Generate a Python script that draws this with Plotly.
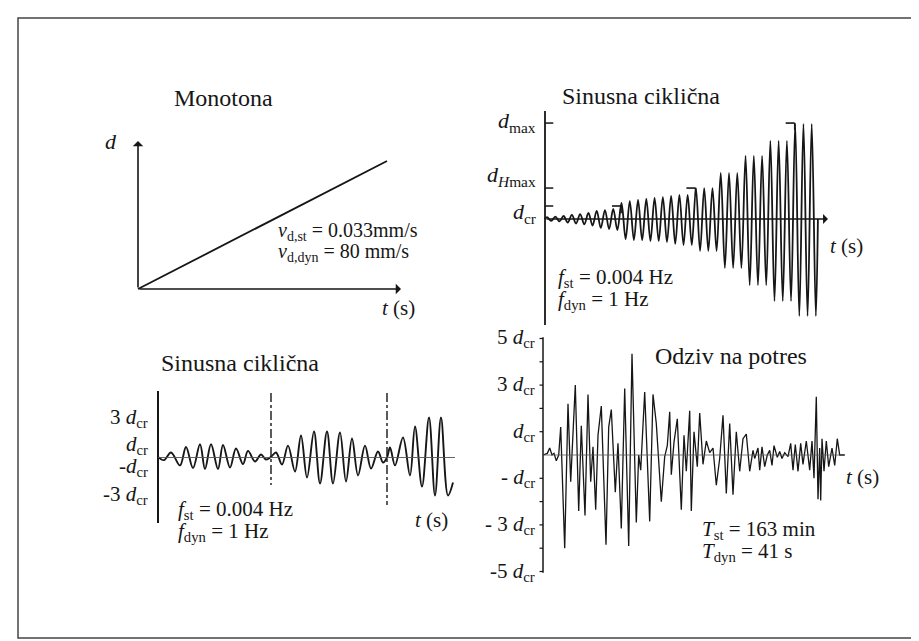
import plotly.graph_objects as go

W, H = 919, 641
FONT = "Liberation Serif"
INK = "#161616"

# ---------------- data ----------------
# Panel A: monotonic loading (normalised time / displacement)
mono_t = [0.0, 1.0]
mono_d = [0.0, 1.0]

# Panel B: cyclic sinusoidal loading with stepwise increasing amplitude (units of d_cr), per cycle
cyc_up = [0.15, 0.19, 0.23, 0.31, 0.38, 0.46, 0.62, 0.69, 0.77,
          1.23, 1.38, 1.46, 1.54, 1.62, 1.69, 1.77, 1.85, 1.85,
          2.38, 2.38, 2.38, 3.54, 3.54, 3.54, 4.85, 4.85, 4.85,
          6.00, 6.00, 6.00, 7.31, 7.31, 7.31]
cyc_down = [-0.15, -0.19, -0.27, -0.35, -0.42, -0.50, -0.69, -0.77, -0.85,
            -1.54, -1.62, -1.62, -1.69, -1.69, -1.77, -1.92, -2.00, -2.00,
            -2.46, -2.46, -2.46, -3.77, -3.77, -3.77, -5.08, -5.08, -5.08,
            -6.31, -6.31, -6.31, -7.46, -7.46, -7.46]
levels_B = [1.0, 2.38, 7.38]
level_start_cycle_B = [9, 18, 30]
level_label_pos_B = [0.46, 3.30, 7.46]
level_labels_B = ["<i>d</i><sub>cr</sub>", "<i>d</i><sub><i>H</i>max</sub>", "<i>d</i><sub>max</sub>"]

# Panel C: three sinusoidal packets (units of d_cr)
pack_t = [0, 6, 13, 22, 28, 35, 42, 47, 53, 60, 65, 72, 78, 85, 90, 97, 103, 108, 113,
          118, 124, 130, 137, 143, 149, 156, 162, 169, 175, 182, 188, 194, 200, 207, 213, 220, 225, 229,
          232, 237, 245, 252, 257, 264, 271, 277, 283, 290, 295]
pack_d = [0.05, -0.2, 0.38, -0.6, 0.8, -0.8, 1.0, -0.87, 1.0, -0.87, 0.95, -0.76, 0.68, -0.5, 0.5, -0.3, 0.23, -0.15, 0.05,
          0.38, -0.53, 0.9, -1.06, 1.67, -1.52, 1.97, -1.97, 1.97, -1.97, 1.9, -1.82, 1.44, -1.36, 0.9, -0.83, 0.45, -0.38, 0.0,
          0.76, -0.6, 1.52, -1.36, 2.35, -2.2, 3.03, -2.88, 3.03, -2.88, -1.9]
pack_dividers = [113, 229]
ticks_C = [2.99, 0.97, -0.72, -2.82]
tick_labels_C = ["3 <i>d</i><sub>cr</sub>", "<i>d</i><sub>cr</sub>", "-<i>d</i><sub>cr</sub>", "-3 <i>d</i><sub>cr</sub>"]

# Panel D: earthquake response (units of d_cr)
eq_t = [0, 4.3, 6.7, 9, 11, 13.3, 15.7, 17.7, 21.7, 25, 27.7, 32.3, 35.7, 38.3, 42, 45, 47.7, 50, 52.7, 55,
        58.3, 63, 65.7, 68.3, 72.3, 75, 78.3, 81.7, 85.7, 89, 93.3, 95.7, 97.7, 101.7, 106.7, 110, 113.3,
        118.3, 121.7, 124.3, 126.7, 128.3, 131, 134.3, 138.3, 141, 143.3, 146.7, 148.3, 151, 154.3, 156.7,
        160, 163.3, 166.7, 170, 173.3, 176.7, 180, 183.3, 186.7, 190, 193.3, 196.7, 200, 203.3, 206.7, 210,
        211.7, 215, 216.7, 219, 221.7, 224.3, 226.7, 229, 231, 234.3, 236.7, 239, 241.7, 245, 247.7, 250,
        252.3, 255, 257.7, 260, 263.3, 266.7, 269, 271, 273.3, 275, 276.7, 277.7, 279, 281, 283.3, 285.7,
        289, 291.7, 294.3, 296.7, 301.7]
eq_d = [0, 0.07, 0.3, 0, 0.07, -0.25, 0, 1.2, -4.0, 2.2, -1.15, 3.0, -2.4, 1.25, -2.6, 2.6, -1.15, 0.35, -2.35, 0.85,
        2.1, -3.85, 1.2, 1.95, -1.6, 0.5, -3.15, 2.85, -3.9, 4.35, -2.9, 0, -0.65, 2.7, -2.85, 2.6, 1.35,
        -2.0, -0.07, 0.4, 1.85, -0.85, 0.55, 1.55, -2.35, 0.85, -0.7, 1.9, -2.4, 1.0, -0.5, 1.8,
        -0.4, 0.6, 0.1, 0.3, -1.3, -0.15, 1.7, -1.65, 1.35, -1.7, 1.0, -0.7, 0.7, 0.9, -0.7, 0.2,
        -0.15, 0.3, -0.65, 0.35, -0.5, 0, 0.2, -0.45, 0.4, -0.1, 0.15, -0.15, 0.1, -0.07, 0.5, -0.65,
        0.45, -0.7, 0.5, -0.4, 0.6, -0.65, 0.6, -1.0, 2.5, -1.9, 0.3, -1.95, 0.7, -0.7, 0.6, -0.5,
        0.3, -0.45, 0.7, 0, 0]
ticks_D = [5, 4, 3, 2, 1, 0, -1, -2, -3, -4, -5]
label_ticks_D = [5, 3, 1, -1, -3, -5]
tick_labels_D = ["5 <i>d</i><sub>cr</sub>", "3 <i>d</i><sub>cr</sub>", "<i>d</i><sub>cr</sub>",
                 "- <i>d</i><sub>cr</sub>", "- 3 <i>d</i><sub>cr</sub>", "-5 <i>d</i><sub>cr</sub>"]

# ---------------- geometry (pixel layout of the four panels) ----------------
panels = {
    "A": dict(box=(115, 405, 120, 295), origin=(130, 281), sx=249.0, sy=128.0, xa="x", ya="y"),
    "B": dict(box=(525, 830, 95, 325), origin=(537, 211), sx=8.27, sy=13.0, xa="x2", ya="y2"),
    "C": dict(box=(140, 455, 375, 525), origin=(150, 449.5), sx=1.0, sy=13.2, xa="x3", ya="y3"),
    "D": dict(box=(520, 845, 325, 575), origin=(535, 447), sx=1.0, sy=23.3, xa="x4", ya="y4"),
}


def P(p, xpx, ypx):
    g = panels[p]
    ox, oy = g["origin"]
    return (xpx - ox) / g["sx"], (oy - ypx) / g["sy"]


fig = go.Figure()
shapes = []
anns = []


def seg(p, x0, y0, x1, y1, width=1.8, dash=None, color=INK):
    g = panels[p]
    line = dict(color=color, width=width)
    if dash:
        line["dash"] = dash
    shapes.append(dict(type="line", xref=g["xa"], yref=g["ya"], x0=x0, y0=y0, x1=x1, y1=y1, line=line))


def arrow(p, x0, y0, x1, y1, width=1.6):
    g = panels[p]
    anns.append(dict(xref=g["xa"], yref=g["ya"], axref=g["xa"], ayref=g["ya"], x=x1, y=y1, ax=x0, ay=y0,
                     text="", showarrow=True, arrowhead=1, arrowsize=1.1, arrowwidth=width, arrowcolor=INK,
                     standoff=0, startstandoff=0))


def txt(s, xpx, ypx, size=21, xanchor="left", yanchor="middle"):
    anns.append(dict(xref="paper", yref="paper", x=xpx / W, y=1 - ypx / H, text=s, showarrow=False,
                     xanchor=xanchor, yanchor=yanchor, font=dict(family=FONT, size=size, color=INK)))


# ---- Panel A ----
fig.add_trace(go.Scatter(x=mono_t, y=mono_d, mode="lines", xaxis="x", yaxis="y",
                         line=dict(color=INK, width=1.8), hoverinfo="skip"))
arrow("A", 0, 0, *P("A", 393, 281))
arrow("A", 0, 0, *P("A", 130, 133))
txt("Monotona", 215, 90, 24, "center")
txt("<i>d</i>", 103, 133, 22, "center")
txt("<i>t</i> (s)", 390, 300, 21, "center")
txt("<i>v</i><sub>d,st</sub> = 0.033mm/s", 268, 223, 20)
txt("<i>v</i><sub>d,dyn</sub> = 80 mm/s", 268, 245, 20)

# ---- Panel B ----
tB, yB = [0.0], [0.0]
for k, (u, d) in enumerate(zip(cyc_up, cyc_down)):
    tB += [k + 0.25, k + 0.75]
    yB += [u, d]
tB.append(float(len(cyc_up)))
yB.append(0.0)
fig.add_trace(go.Scatter(x=tB, y=yB, mode="lines", xaxis="x2", yaxis="y2", line_shape="spline",
                         line=dict(color=INK, width=1.8, smoothing=1.0), hoverinfo="skip"))
seg("B", *P("B", 537, 103), *P("B", 537, 317), width=1.8)
arrow("B", 0, 0, *P("B", 820, 211), width=1.5)
for lv in levels_B:
    seg("B", 0, lv, 1.0, lv, width=1.5)
for lv, c in zip(levels_B, level_start_cycle_B):
    seg("B", c - 0.9, lv, c + 0.2, lv, width=1.6)
    seg("B", c + 0.2, lv, c + 0.2, lv - 0.55, width=1.6)
for pos, lab in zip(level_label_pos_B, level_labels_B):
    anns.append(dict(xref="x2", yref="y2", x=P("B", 530, 0)[0], y=pos, text=lab, showarrow=False,
                     xanchor="right", yanchor="middle", font=dict(family=FONT, size=22, color=INK)))
txt("Sinusna ciklična", 633, 88, 24, "center")
txt("<i>t</i> (s)", 820, 238, 21, "left")
txt("<i>f</i><sub>st</sub> = 0.004 Hz", 548, 270, 21)
txt("<i>f</i><sub>dyn</sub> = 1 Hz", 548, 292, 21)

# ---- Panel C ----
fig.add_trace(go.Scatter(x=pack_t, y=pack_d, mode="lines", xaxis="x3", yaxis="y3", line_shape="spline",
                         line=dict(color=INK, width=1.9, smoothing=1.0), hoverinfo="skip"))
seg("C", *P("C", 150, 383), *P("C", 150, 515), width=2.0)
seg("C", 0, 0, P("C", 447, 0)[0], 0, width=0.9, color="#555")
for xd, ybot in zip(pack_dividers, [477, 497]):
    seg("C", xd, P("C", 0, 385)[1], xd, P("C", 0, ybot)[1], width=1.4, dash="dashdot")
for v, lab in zip(ticks_C, tick_labels_C):
    anns.append(dict(xref="x3", yref="y3", x=P("C", 142, 0)[0], y=v, text=lab, showarrow=False,
                     xanchor="right", yanchor="middle", font=dict(family=FONT, size=21, color=INK)))
txt("Sinusna ciklična", 232, 355, 24, "center")
txt("<i>t</i> (s)", 423, 512, 21, "center")
txt("<i>f</i><sub>st</sub> = 0.004 Hz", 168, 502, 21)
txt("<i>f</i><sub>dyn</sub> = 1 Hz", 168, 524, 21)

# ---- Panel D ----
fig.add_trace(go.Scatter(x=eq_t, y=eq_d, mode="lines", xaxis="x4", yaxis="y4",
                         line=dict(color=INK, width=1.3), hoverinfo="skip"))
seg("D", 0, 5.05, 0, -5.05, width=1.5)
seg("D", 0, 0, P("D", 837, 0)[0], 0, width=0.8, color="#555")
for v in ticks_D:
    if v != 0:
        seg("D", -3.5, v, 0, v, width=1.2)
for v, lab in zip(label_ticks_D, tick_labels_D):
    anns.append(dict(xref="x4", yref="y4", x=P("D", 529, 0)[0], y=v, text=lab, showarrow=False,
                     xanchor="right", yanchor="middle", font=dict(family=FONT, size=21, color=INK)))
txt("Odziv na potres", 723, 348, 24, "center")
txt("<i>t</i> (s)", 836, 469, 21, "left")
txt("<i>T</i><sub>st</sub> = 163 min", 692, 522, 21)
txt("<i>T</i><sub>dyn</sub> = 41 s", 692, 544, 21)

# page frame
shapes.append(dict(type="rect", xref="paper", yref="paper", x0=10 / W, x1=908 / W, y0=1 - 630 / H, y1=1 - 10 / H,
                   line=dict(color="#444", width=1.5)))

layout_axes = {}
for i, (k, g) in enumerate(panels.items()):
    left, right, top, bottom = g["box"]
    ox, oy = g["origin"]
    xr = [(left - ox) / g["sx"], (right - ox) / g["sx"]]
    yr = [(oy - bottom) / g["sy"], (oy - top) / g["sy"]]
    sfx = "" if i == 0 else str(i + 1)
    layout_axes["xaxis" + sfx] = dict(domain=[left / W, right / W], range=xr, visible=False,
                                      anchor="y" + sfx, fixedrange=True)
    layout_axes["yaxis" + sfx] = dict(domain=[1 - bottom / H, 1 - top / H], range=yr, visible=False,
                                      anchor="x" + sfx, fixedrange=True)

fig.update_layout(width=W, height=H, margin=dict(l=0, r=0, t=0, b=0), showlegend=False,
                  paper_bgcolor="white", plot_bgcolor="rgba(0,0,0,0)",
                  font=dict(family=FONT, color=INK),
                  shapes=shapes, annotations=anns, **layout_axes)

fig.write_html("out.html", config={"displayModeBar": False})
